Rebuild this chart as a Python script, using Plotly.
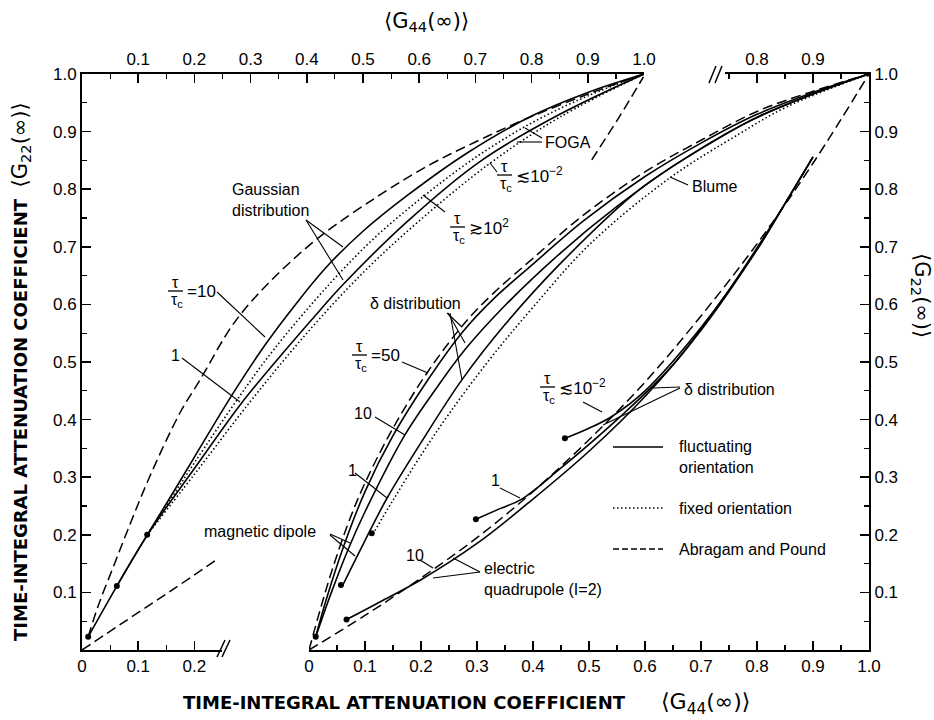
import plotly.graph_objects as go

# ================= DATA =================
# ---- left panel: G44 read on the upper scale, G22 on the left scale ----
left_ap_mag_x = [0.011, 0.03, 0.056, 0.08, 0.12, 0.174, 0.21, 0.27, 0.33, 0.42, 0.53, 0.62, 0.70, 0.785, 0.90, 1.0]
left_ap_mag_y = [0.023, 0.08, 0.145, 0.205, 0.30, 0.411, 0.469, 0.567, 0.635, 0.715, 0.79, 0.843, 0.882, 0.92, 0.965, 1.0]

left_ap_quad_lo_x = [0.0, 0.08, 0.16, 0.237]
left_ap_quad_lo_y = [0.0, 0.052, 0.104, 0.155]
left_ap_quad_hi_x = [0.907, 0.955, 0.999]
left_ap_quad_hi_y = [0.851, 0.924, 0.995]

left_gauss10_x = [0.011, 0.062, 0.116, 0.16, 0.2, 0.269, 0.326, 0.38, 0.435, 0.5, 0.58, 0.684, 0.8, 0.9, 1.0]
left_gauss10_y = [0.023, 0.111, 0.2, 0.27, 0.335, 0.446, 0.53, 0.60, 0.665, 0.727, 0.79, 0.862, 0.927, 0.968, 1.0]

left_gauss1_x = [0.062, 0.12, 0.2, 0.281, 0.35, 0.4235, 0.465, 0.58, 0.708, 0.85, 1.0]
left_gauss1_y = [0.111, 0.205, 0.315, 0.425, 0.507, 0.59, 0.635, 0.745, 0.848, 0.93, 1.0]

left_fix_hi_x = [0.116, 0.16, 0.2, 0.28, 0.34, 0.44, 0.52, 0.607, 0.7, 0.8, 0.9, 1.0]
left_fix_hi_y = [0.2, 0.265, 0.325, 0.44, 0.52, 0.635, 0.715, 0.787, 0.855, 0.915, 0.962, 1.0]

left_fix_lo_x = [0.116, 0.2, 0.3, 0.4, 0.5, 0.6, 0.726, 0.85, 1.0]
left_fix_lo_y = [0.2, 0.305, 0.432, 0.55, 0.655, 0.745, 0.845, 0.925, 1.0]

left_dots_x = [0.011, 0.062, 0.116]
left_dots_y = [0.023, 0.111, 0.2]

# ---- right panel: G44 on the lower scale ----
mag_ap_x = [0.0, 0.02, 0.04, 0.07, 0.1, 0.15, 0.21, 0.28, 0.33, 0.4, 0.49, 0.6, 0.7, 0.8, 0.9, 1.0]
mag_ap_y = [0.0, 0.07, 0.135, 0.22, 0.29, 0.385, 0.48, 0.57, 0.62, 0.68, 0.755, 0.83, 0.885, 0.935, 0.97, 1.0]

mag50_x = [0.012, 0.03, 0.06, 0.1, 0.15, 0.213, 0.275, 0.33, 0.4, 0.49, 0.6, 0.7, 0.8, 0.9, 1.0]
mag50_y = [0.023, 0.085, 0.175, 0.275, 0.372, 0.47, 0.553, 0.61, 0.67, 0.745, 0.822, 0.88, 0.93, 0.968, 1.0]

mag10_x = [0.012, 0.04, 0.07, 0.1, 0.171, 0.23, 0.279, 0.35, 0.45, 0.55, 0.65, 0.77, 0.88, 1.0]
mag10_y = [0.023, 0.1, 0.175, 0.24, 0.373, 0.458, 0.522, 0.598, 0.69, 0.77, 0.84, 0.91, 0.958, 1.0]

mag1_x = [0.06, 0.1, 0.139, 0.2, 0.273, 0.35, 0.45, 0.591, 0.7, 0.8, 0.9, 1.0]
mag1_y = [0.112, 0.19, 0.263, 0.36, 0.469, 0.565, 0.672, 0.8, 0.87, 0.925, 0.965, 1.0]

blume_x = [0.114, 0.15, 0.2, 0.25, 0.323, 0.4, 0.502, 0.645, 0.77, 0.853, 1.0]
blume_y = [0.201, 0.26, 0.338, 0.41, 0.505, 0.595, 0.705, 0.82, 0.897, 0.943, 1.0]

mag_dots_x = [0.012, 0.057, 0.112]
mag_dots_y = [0.023, 0.113, 0.2026]

quad_ap_x = [0.0, 0.1, 0.2, 0.3, 0.4, 0.5, 0.6, 0.7, 0.8, 0.9, 1.0]
quad_ap_y = [0.0, 0.06, 0.125, 0.195, 0.275, 0.365, 0.465, 0.58, 0.705, 0.845, 1.0]

quad10_x = [0.067, 0.12, 0.2, 0.3, 0.4, 0.5, 0.6, 0.7, 0.8, 0.85, 0.9]
quad10_y = [0.053, 0.08, 0.122, 0.185, 0.262, 0.345, 0.44, 0.555, 0.695, 0.775, 0.856]

quad1_x = [0.298, 0.34, 0.38, 0.45, 0.55, 0.65, 0.75, 0.85, 0.9]
quad1_y = [0.227, 0.245, 0.262, 0.316, 0.40, 0.495, 0.625, 0.775, 0.856]

quadm2_x = [0.457, 0.5, 0.54, 0.6, 0.7, 0.8, 0.85, 0.9]
quadm2_y = [0.3675, 0.385, 0.405, 0.45, 0.56, 0.695, 0.775, 0.856]

quad_dots_x = [0.067, 0.298, 0.457]
quad_dots_y = [0.053, 0.227, 0.3675]

tick_vals = [0.1, 0.2, 0.3, 0.4, 0.5, 0.6, 0.7, 0.8, 0.9, 1.0]
tick_text = ["0.1", "0.2", "0.3", "0.4", "0.5", "0.6", "0.7", "0.8", "0.9", "1.0"]
minor_vals = [0.05, 0.15, 0.25, 0.35, 0.45, 0.55, 0.65, 0.75, 0.85, 0.95]

# ================= LAYOUT GEOMETRY =================
W, H = 934, 720
ML, MR, MT, MB = 82, 65, 74, 70
PW = W - ML - MR
PH = H - MT - MB


def xp(px):
    return (px - ML) / PW


def yp(py):
    return (H - MB - py) / PH


FONT = "Liberation Sans, Arial, DejaVu Sans, sans-serif"
SOLID = dict(color="black", width=1.6)
DASH = dict(color="black", width=1.5, dash="10px,5px")
DOT = dict(color="black", width=1.6, dash="1.5px,2.5px")

fig = go.Figure()


def add(x, y, line, xa="x"):
    fig.add_trace(go.Scatter(x=x, y=y, mode="lines", line=line, xaxis=xa, yaxis="y",
                             showlegend=False, hoverinfo="skip", line_shape="spline"))


# left panel curves
add(left_ap_mag_x, left_ap_mag_y, DASH)
add(left_ap_quad_lo_x, left_ap_quad_lo_y, DASH)
add(left_ap_quad_hi_x, left_ap_quad_hi_y, DASH)
add(left_gauss10_x, left_gauss10_y, SOLID)
add(left_gauss1_x, left_gauss1_y, SOLID)
add(left_fix_hi_x, left_fix_hi_y, DOT)
add(left_fix_lo_x, left_fix_lo_y, DOT)
fig.add_trace(go.Scatter(x=left_dots_x, y=left_dots_y, mode="markers", xaxis="x", yaxis="y",
                         marker=dict(color="black", size=6), showlegend=False, hoverinfo="skip"))

# right panel curves
add(mag_ap_x, mag_ap_y, DASH, "x2")
add(mag50_x, mag50_y, SOLID, "x2")
add(mag10_x, mag10_y, SOLID, "x2")
add(mag1_x, mag1_y, SOLID, "x2")
add(blume_x, blume_y, DOT, "x2")
add(quad_ap_x, quad_ap_y, DASH, "x2")
add(quad10_x, quad10_y, SOLID, "x2")
add(quad1_x, quad1_y, SOLID, "x2")
add(quadm2_x, quadm2_y, SOLID, "x2")
fig.add_trace(go.Scatter(x=mag_dots_x + quad_dots_x, y=mag_dots_y + quad_dots_y, mode="markers",
                         xaxis="x2", yaxis="y", marker=dict(color="black", size=6),
                         showlegend=False, hoverinfo="skip"))

axis_common = dict(showgrid=False, zeroline=False, showline=True, linecolor="black", linewidth=2,
                   ticks="inside", ticklen=9, tickwidth=1.5, tickcolor="black",
                   tickfont=dict(family=FONT, size=17, color="black"), fixedrange=True)
minor_common = dict(ticks="inside", ticklen=5, tickwidth=1.2, tickcolor="black", showgrid=False)

fig.update_layout(
    width=W, height=H,
    margin=dict(l=ML, r=MR, t=MT, b=MB),
    paper_bgcolor="white", plot_bgcolor="rgba(0,0,0,0)",
    showlegend=False,
    font=dict(family=FONT, size=16, color="black"),
    xaxis=dict(domain=[0, xp(644)], range=[0, 1], side="top", anchor="y",
               tickvals=tick_vals, ticktext=tick_text,
               minor=dict(tickvals=minor_vals, **minor_common), **axis_common),
    xaxis2=dict(domain=[xp(309), 1], range=[0, 1], side="bottom", anchor="y",
                tickvals=[0.0] + tick_vals, ticktext=["0"] + tick_text,
                minor=dict(tickvals=minor_vals, **minor_common), **axis_common),
    xaxis3=dict(domain=[0, xp(222)], range=[0, (222 - 82) / 562], side="bottom", anchor="y",
                tickvals=[0.0, 0.1, 0.2], ticktext=["0", "0.1", "0.2"],
                minor=dict(tickvals=[0.05, 0.15], **minor_common), **axis_common),
    xaxis4=dict(domain=[xp(725), 1], range=[(725 - 309) / 560, 1], side="top", anchor="y",
                tickvals=[0.8, 0.9], ticktext=["0.8", "0.9"],
                minor=dict(tickvals=[0.75, 0.85, 0.95], **minor_common), **axis_common),
    yaxis=dict(domain=[0, 1], range=[0, 1], side="left", anchor="x",
               tickvals=tick_vals, ticktext=tick_text,
               minor=dict(tickvals=minor_vals, **minor_common), **axis_common),
    yaxis2=dict(domain=[0, 1], range=[0, 1], side="right", anchor="x2", overlaying="y",
                tickvals=tick_vals, ticktext=tick_text,
                minor=dict(tickvals=minor_vals, **minor_common), **axis_common),
)
# empty traces so that axes 3, 4 and y2 are drawn
fig.add_trace(go.Scatter(x=[None], y=[None], xaxis="x3", yaxis="y", showlegend=False))
fig.add_trace(go.Scatter(x=[None], y=[None], xaxis="x4", yaxis="y", showlegend=False))
fig.add_trace(go.Scatter(x=[None], y=[None], xaxis="x2", yaxis="y2", showlegend=False))

shapes = []
annos = []


def seg(p0, p1, width=1.1, dash=None):
    ln = dict(color="black", width=width)
    if dash:
        ln["dash"] = dash
    shapes.append(dict(type="line", xref="paper", yref="paper",
                       x0=xp(p0[0]), y0=yp(p0[1]), x1=xp(p1[0]), y1=yp(p1[1]), line=ln))


def text(px, py, s, xanchor="left", yanchor="middle", size=16, angle=0, family=FONT, align="left"):
    annos.append(dict(x=xp(px), y=yp(py), xref="paper", yref="paper", text=s, showarrow=False,
                      xanchor=xanchor, yanchor=yanchor, textangle=angle, align=align,
                      font=dict(family=family, size=size, color="black")))


def frac(bx, by, rhs):
    seg((bx, by), (bx + 15, by), width=1.3)
    text(bx + 7, by + 2, "τ", xanchor="center", yanchor="bottom", size=16)
    text(bx + 1, by - 2, "τ<sub>c</sub>", xanchor="left", yanchor="top", size=16)
    text(bx + 17, by, rhs, xanchor="left", yanchor="middle", size=17)


# ---- labels, left panel ----
text(230, 200, "Gaussian<br>distribution")
seg((306, 220), (343, 247))
seg((306, 220), (343, 280))
frac(168, 291, "=10")
seg((217, 292), (265, 337))
text(175, 355, "1", xanchor="center")
seg((182, 358), (240, 402))
frac(450, 227, "≳10<sup>2</sup>")
seg((445, 212), (423, 195))
frac(497, 175, "≲10<sup>−2</sup>")
seg((497, 172), (490, 163))
text(543, 142, "FOGA")
seg((542, 138), (525, 128))
seg((542, 142), (517, 142))
text(202, 531, "magnetic dipole")
seg((330, 534), (350, 543))
seg((330, 535), (355, 556))

# ---- labels, right panel ----
text(368, 303, "δ distribution")
seg((447, 313), (462, 327))
seg((448, 313), (465, 343))
seg((450, 313), (462, 380))
frac(352, 355, "=50")
seg((402, 362), (428, 373))
text(363, 413, "10", xanchor="center")
seg((375, 417), (405, 435))
text(352, 470, "1", xanchor="center")
seg((355, 473), (387, 498))
frac(540, 387, "≲10<sup>−2</sup>")
seg((583, 402), (602, 412))
text(682, 389, "δ distribution")
seg((680, 387), (653, 388))
seg((680, 388), (603, 425))
text(495, 480, "1", xanchor="center")
seg((500, 488), (520, 498))
text(415, 555, "10", xanchor="center")
seg((420, 560), (433, 568))
text(482, 579, "electric<br>quadrupole (I=2)")
seg((480, 572), (453, 558))
seg((480, 572), (433, 578))
text(690, 186, "Blume")
seg((688, 185), (670, 177))

# ---- legend (line samples + text) ----
seg((613, 447), (663, 447), width=1.6)
text(677, 457, "fluctuating<br>orientation")
seg((613, 508), (663, 508), width=1.6, dash="1.5px,2.5px")
text(677, 508, "fixed orientation")
seg((613, 549), (663, 549), width=1.5, dash="6px,3px")
text(677, 549, "Abragam and Pound")

# ---- axis break marks ----
seg((217, 657), (225, 640), width=1.5)
seg((222, 657), (230, 640), width=1.5)
seg((709, 83), (716, 66), width=1.5)
seg((715, 83), (722, 66), width=1.5)

# ---- axis titles ----
TFONT = "DejaVu Sans, Liberation Sans, sans-serif"
text(21, 372, "<b>TIME-INTEGRAL ATTENUATION COEFFICIENT</b>  <span style='font-size:21px'>⟨G<sub>22</sub>(∞)⟩</span>",
     xanchor="center", yanchor="middle", size=18, angle=-90, family=TFONT)
text(404, 702, "<b>TIME-INTEGRAL ATTENUATION COEFFICIENT</b>", xanchor="center", size=18, family=TFONT)
text(705, 703, "⟨G<sub>44</sub>(∞)⟩", xanchor="center", size=22, family=TFONT)
text(426, 22, "⟨G<sub>44</sub>(∞)⟩", xanchor="center", size=21, family=TFONT)
text(921, 295, "⟨G<sub>22</sub>(∞)⟩", xanchor="center", size=21, angle=90, family=TFONT)

fig.update_layout(shapes=shapes, annotations=annos)
fig.write_html("out.html", config={"displayModeBar": False, "staticPlot": True},
               post_script="document.body.style.margin='0px';")
